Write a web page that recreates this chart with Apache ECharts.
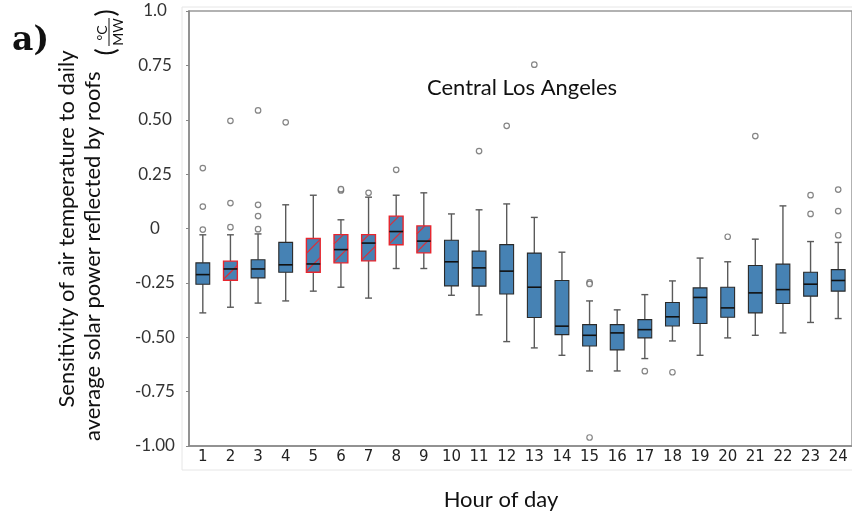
<!DOCTYPE html>
<html><head><meta charset="utf-8">
<script src="https://cdn.jsdelivr.net/npm/echarts@6/dist/echarts.min.js"></script>
<style>html,body{margin:0;padding:0;background:#fff}#c{width:852px;height:515px}</style>
</head><body><div id="c"></div>
<script>
// ---- data ----
var hours = ['1','2','3','4','5','6','7','8','9','10','11','12','13','14','15','16','17','18','19','20','21','22','23','24'];
var whiskerLow  = [-0.388,-0.362,-0.343,-0.333,-0.288,-0.270,-0.320,-0.184,-0.184,-0.307,-0.397,-0.520,-0.549,-0.583,-0.655,-0.655,-0.598,-0.517,-0.583,-0.503,-0.491,-0.480,-0.432,-0.414];
var quartile1   = [-0.256,-0.238,-0.227,-0.201,-0.201,-0.158,-0.149,-0.075,-0.112,-0.264,-0.265,-0.301,-0.409,-0.488,-0.540,-0.558,-0.503,-0.448,-0.437,-0.408,-0.388,-0.345,-0.311,-0.288];
var medianVals  = [-0.212,-0.186,-0.186,-0.167,-0.163,-0.097,-0.067,-0.014,-0.058,-0.153,-0.181,-0.196,-0.270,-0.449,-0.491,-0.480,-0.465,-0.406,-0.317,-0.365,-0.296,-0.281,-0.256,-0.239];
var quartile3   = [-0.158,-0.150,-0.144,-0.064,-0.046,-0.028,-0.028,0.057,0.012,-0.054,-0.104,-0.074,-0.113,-0.239,-0.442,-0.442,-0.419,-0.340,-0.273,-0.270,-0.170,-0.164,-0.201,-0.189];
var whiskerHigh = [-0.029,-0.029,-0.025,0.109,0.153,0.040,0.144,0.153,0.164,0.067,0.086,0.113,0.051,-0.109,-0.333,-0.374,-0.304,-0.241,-0.136,-0.153,-0.049,0.104,-0.060,-0.064];
var highlightedHours = ['2','5','6','7','8','9'];
var outlierHours  = ['1','1','1','2','2','2','3','3','3','3','4','6','6','7','8','11','12','13','15','15','15','17','18','20','21','23','23','24','24','24'];
var outlierValues = [-0.005,0.101,0.278,0.006,0.117,0.495,-0.003,0.057,0.109,0.543,0.488,0.175,0.181,0.164,0.270,0.356,0.472,0.753,-0.248,-0.255,-0.961,-0.656,-0.661,-0.038,0.425,0.067,0.153,-0.031,0.080,0.179];
var yTickLabels = ['-1.00','-0.75','-0.50','-0.25','0','0.25','0.50','0.75','1.0'];

// ---- build series data ----
var boxData = hours.map(function (h, i) {
  return [i, whiskerLow[i], quartile1[i], medianVals[i], quartile3[i], whiskerHigh[i], highlightedHours.indexOf(h) >= 0 ? 1 : 0];
});
var outlierData = outlierHours.map(function (h, i) { return [hours.indexOf(h), outlierValues[i]]; });

var BLUE = '#4682b4', RED = '#e8262e';

function renderBox(params, api) {
  var i = api.value(0);
  var cx = api.coord([i, 0])[0];
  var yLow = api.coord([i, api.value(1)])[1];
  var yQ1 = api.coord([i, api.value(2)])[1];
  var yMed = api.coord([i, api.value(3)])[1];
  var yQ3 = api.coord([i, api.value(4)])[1];
  var yHigh = api.coord([i, api.value(5)])[1];
  var red = api.value(6) === 1;
  var band = api.size([1, 0])[0];
  var bw = band * 0.5, cap = bw * 0.5;
  var x0 = cx - bw / 2, x1 = cx + bw / 2;
  var wStyle = { stroke: '#5a5a5a', lineWidth: 1.4 };
  var children = [
    { type: 'line', shape: { x1: cx, y1: yQ1, x2: cx, y2: yLow }, style: wStyle },
    { type: 'line', shape: { x1: cx, y1: yQ3, x2: cx, y2: yHigh }, style: wStyle },
    { type: 'line', shape: { x1: cx - cap / 2, y1: yLow, x2: cx + cap / 2, y2: yLow }, style: wStyle },
    { type: 'line', shape: { x1: cx - cap / 2, y1: yHigh, x2: cx + cap / 2, y2: yHigh }, style: wStyle },
    { type: 'rect', shape: { x: x0, y: yQ3, width: bw, height: yQ1 - yQ3 },
      style: { fill: BLUE, stroke: red ? RED : '#2a2a2a', lineWidth: red ? 1.4 : 1.1 } }
  ];
  if (red) {
    var c0 = x0 + yQ1 - 1;
    for (var c = c0; c > x0 + yQ3; c -= 18) {
      var xs = Math.max(x0, c - yQ1), xe = Math.min(x1, c - yQ3);
      if (xe > xs) children.push({ type: 'line', shape: { x1: xs, y1: c - xs, x2: xe, y2: c - xe }, style: { stroke: '#d8303a', lineWidth: 1.2 } });
    }
  }
  children.push({ type: 'line', shape: { x1: x0, y1: yMed, x2: x1, y2: yMed }, style: { stroke: '#111', lineWidth: 1.6 } });
  return { type: 'group', children: children };
}

var chart = echarts.init(document.getElementById('c'));
chart.setOption({
  animation: false,
  backgroundColor: '#fff',
  grid: { left: 189, top: 11, bottom: 69, right: -5, show: true, borderColor: '#999', borderWidth: 1.5, backgroundColor: 'transparent' },
  xAxis: {
    type: 'category', data: hours, boundaryGap: true,
    axisLine: { onZero: false, lineStyle: { color: '#888', width: 1.5 } },
    axisTick: { alignWithLabel: true, length: 4, lineStyle: { color: '#888' } },
    axisLabel: { margin: 4, color: '#222', fontFamily: 'DejaVu Sans', fontSize: 15, interval: 0 },
    splitLine: { show: false }
  },
  yAxis: {
    type: 'value', min: -1, max: 1, interval: 0.25,
    axisLine: { show: true, lineStyle: { color: '#888', width: 1.5 } },
    axisTick: { show: true, length: 3, lineStyle: { color: '#888' } },
    axisLabel: { align: 'center', margin: 34, color: '#333', fontFamily: 'Lato', fontSize: 17,
      formatter: function (v) { return yTickLabels[Math.round((v + 1) / 0.25)]; } },
    splitLine: { show: false }
  },
  series: [
    { type: 'custom', renderItem: renderBox, data: boxData, encode: { x: 0, y: [1, 2, 3, 4, 5] }, z: 2 },
    { type: 'scatter', data: outlierData, symbol: 'circle', symbolSize: 5.5,
      itemStyle: { color: '#fff', borderColor: '#666', borderWidth: 1.2 }, z: 3 }
  ],
  graphic: [
    { type: 'rect', z: -1, shape: { x: 182, y: 7, width: 700, height: 463 }, style: { fill: 'none', stroke: '#e6e6e6', lineWidth: 1 } },
    { type: 'text', x: 522, y: 88, style: { text: 'Central Los Angeles', font: '22px Lato', fill: '#111', textAlign: 'center', textVerticalAlign: 'middle' } },
    { type: 'text', x: 501, y: 500, style: { text: 'Hour of day', font: '22px Lato', fill: '#111', textAlign: 'center', textVerticalAlign: 'middle' } },
    { type: 'text', x: 12, y: 58, style: { text: 'a)', font: 'bold 33px "DejaVu Serif"', fill: '#111', textAlign: 'left', textVerticalAlign: 'bottom' } },
    { type: 'text', x: 67, y: 229, rotation: Math.PI / 2, style: { text: 'Sensitivity of air temperature to daily', font: '22px Lato', fill: '#111', textAlign: 'center', textVerticalAlign: 'middle' } },
    { type: 'text', x: 93, y: 441, rotation: Math.PI / 2, style: { text: 'average solar power reflected by roofs', font: '22px Lato', fill: '#111', textAlign: 'left', textVerticalAlign: 'middle' } },
    { type: 'text', x: 106, y: 52, rotation: Math.PI / 2, style: { text: '(', font: '27px Lato', fill: '#111', textAlign: 'center', textVerticalAlign: 'middle' } },
    { type: 'text', x: 102, y: 33, rotation: Math.PI / 2, style: { text: '°C', font: '14px Lato', fill: '#111', textAlign: 'center', textVerticalAlign: 'middle' } },
    { type: 'line', shape: { x1: 109, y1: 18, x2: 109, y2: 46 }, style: { stroke: '#111', lineWidth: 1 } },
    { type: 'text', x: 118, y: 32, rotation: Math.PI / 2, style: { text: 'MW', font: '14px Lato', fill: '#111', textAlign: 'center', textVerticalAlign: 'middle' } },
    { type: 'text', x: 106, y: 13, rotation: Math.PI / 2, style: { text: ')', font: '27px Lato', fill: '#111', textAlign: 'center', textVerticalAlign: 'middle' } }
  ]
});
</script>
</body></html>
